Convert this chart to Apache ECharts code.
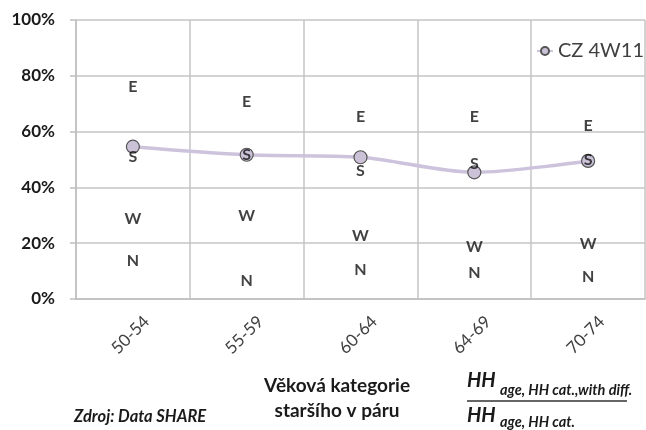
<!DOCTYPE html>
<html>
<head>
<meta charset="utf-8">
<script src="https://cdn.jsdelivr.net/npm/echarts@6/dist/echarts.min.js"></script>
<style>html,body{margin:0;padding:0;background:#fff}#c{width:646px;height:430px}</style>
</head>
<body>
<div id="c"></div>
<script>
const categories = ['50-54', '55-59', '60-64', '64-69', '70-74'];
const yTicks = [0, 20, 40, 60, 80, 100];
const lineName = 'CZ 4W11';
const lineValues = [54.6, 51.7, 50.8, 45.4, 49.5];
const letterE = [75.9, 70.5, 65.3, 65.3, 62.0];
const letterS = [51.0, 51.6, 46.0, 48.6, 50.0];
const letterW = [28.7, 29.9, 22.6, 18.7, 19.9];
const letterN = [13.7, 6.6, 10.6, 9.2, 7.8];
const axisTitle = ['Věková kategorie', 'staršího v páru'];
const sourceText = 'Zdroj: Data SHARE';

const FONT = 'Lato, "Open Sans", sans-serif';
const chart = echarts.init(document.getElementById('c'), null, {renderer: 'canvas'});

function letterSeries(name, vals) {
  return {
    name: name, type: 'scatter', data: vals, symbolSize: 1,
    itemStyle: {color: 'rgba(0,0,0,0)'},
    label: {show: true, position: 'inside', formatter: name, color: '#111',
      fontFamily: FONT, fontWeight: 'bold', fontSize: 16},
    z: 5, silent: true
  };
}

chart.setOption({
  animation: false,
  grid: {left: 76, right: 1, top: 20, bottom: 131},
  legend: {
    data: [lineName], left: 531, top: 36, itemWidth: 16, itemHeight: 10, itemGap: 4,
    textStyle: {fontFamily: FONT, fontSize: 20, color: '#404040'}
  },
  xAxis: {
    type: 'category', data: categories, boundaryGap: true,
    axisLine: {show: true, lineStyle: {color: '#bfbfbf', width: 1.5}},
    axisTick: {show: false},
    splitLine: {show: true, interval: 0, lineStyle: {color: '#c4c4c4', width: 1.5}},
    axisLabel: {rotate: 45, margin: 6, interval: 0, verticalAlign: 'top', padding: [11, 0, 0, 0],
      fontFamily: FONT, fontSize: 17, color: '#404040'}
  },
  yAxis: {
    type: 'value', min: 0, max: 100, interval: 20,
    axisLine: {show: true, lineStyle: {color: '#bfbfbf', width: 1.5}},
    axisTick: {show: true, length: 6, lineStyle: {color: '#bfbfbf', width: 1.5}},
    splitLine: {show: true, lineStyle: {color: '#c4c4c4', width: 1.5}},
    axisLabel: {margin: 21, formatter: v => yTicks.includes(v) ? v + '%' : '',
      fontFamily: FONT, fontWeight: 'bold', fontSize: 17, color: '#1a1a1a'}
  },
  series: [
    {
      name: lineName, type: 'line', data: lineValues, smooth: 0.3,
      symbol: 'circle', symbolSize: 13,
      lineStyle: {color: '#cdc3dc', width: 3.5},
      itemStyle: {color: '#cbc2d8', borderColor: '#555', borderWidth: 1.2},
      z: 3
    },
    letterSeries('E', letterE),
    letterSeries('S', letterS),
    letterSeries('W', letterW),
    letterSeries('N', letterN)
  ],
  graphic: [
    {type: 'text', style: {text: axisTitle.join('\n'), x: 337, y: 373,
      textAlign: 'center', font: 'bold 19px ' + FONT, lineHeight: 25, fill: '#1a1a1a'}},
    {type: 'text', style: {text: sourceText, x: 74, y: 408, font: 'italic bold 16.5px ' + FONT, fill: '#1a1a1a'}},
    {type: 'text', style: {text: 'HH', x: 467, y: 371, font: 'italic bold 20px ' + FONT, fill: '#1a1a1a'}},
    {type: 'text', style: {text: 'age, HH cat.,with diff.', x: 500, y: 383, font: 'italic bold 14.5px ' + FONT, fill: '#1a1a1a'}},
    {type: 'line', shape: {x1: 467, y1: 401, x2: 627, y2: 401}, style: {stroke: '#333', lineWidth: 1.5}},
    {type: 'text', style: {text: 'HH', x: 467, y: 406, font: 'italic bold 20px ' + FONT, fill: '#1a1a1a'}},
    {type: 'text', style: {text: 'age, HH cat.', x: 500, y: 415, font: 'italic bold 14.5px ' + FONT, fill: '#1a1a1a'}}
  ]
});
</script>
</body>
</html>
